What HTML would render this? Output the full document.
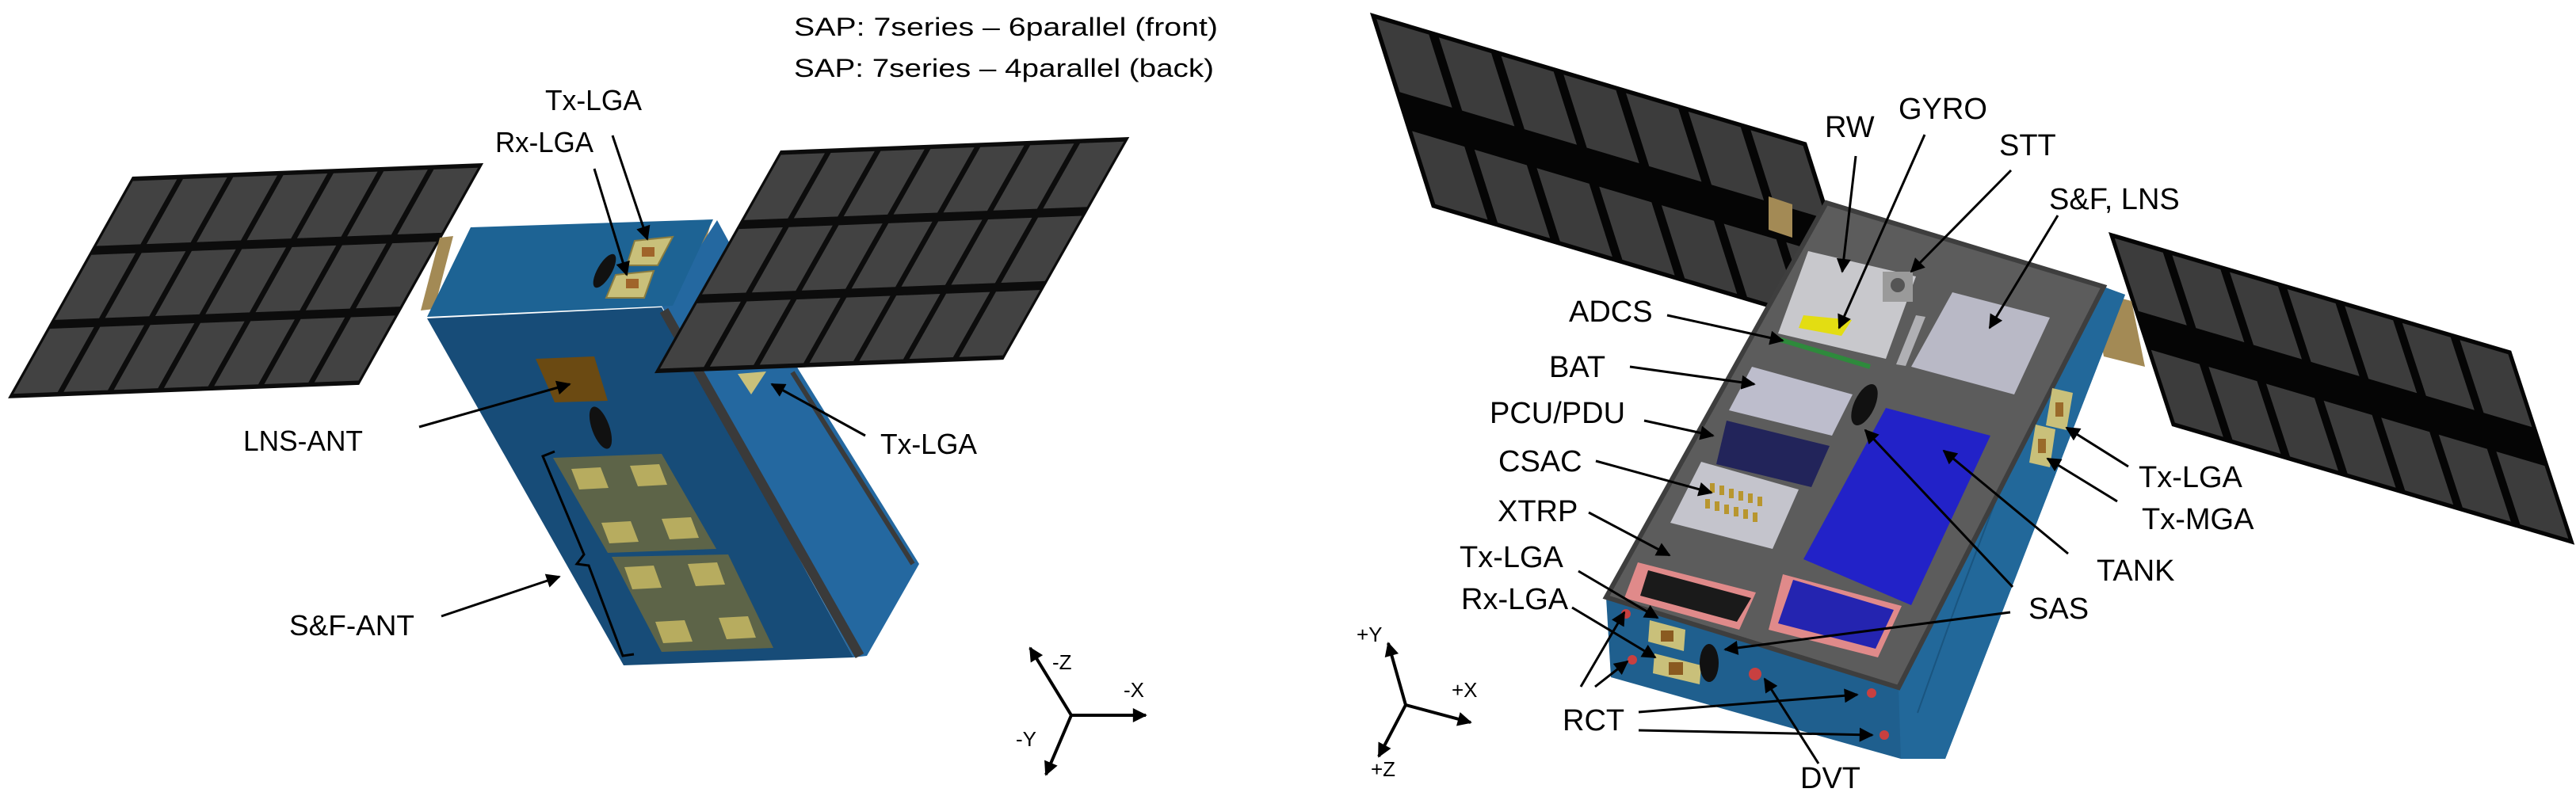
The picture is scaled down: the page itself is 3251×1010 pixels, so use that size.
<!DOCTYPE html>
<html><head><meta charset="utf-8"><style>
html,body{margin:0;padding:0;background:#fff;}
svg{display:block;}
text{font-family:"Liberation Sans",sans-serif;fill:#000;}
</style></head><body>
<svg width="3251" height="1010" viewBox="0 0 3251 1010" xmlns="http://www.w3.org/2000/svg">
<defs>
<marker id="ah" viewBox="0 0 10 10" refX="9" refY="5" markerWidth="22" markerHeight="18" orient="auto" markerUnits="userSpaceOnUse"><path d="M0,0 L10,5 L0,10 z" fill="#000"/></marker>
<g id="p7x3">
<rect x="0" y="0" width="7" height="3" fill="#0c0c0c"/>
<g fill="#424242">
<rect x="0.06" y="0.06" width="0.88" height="0.88"/><rect x="1.06" y="0.06" width="0.88" height="0.88"/><rect x="2.06" y="0.06" width="0.88" height="0.88"/><rect x="3.06" y="0.06" width="0.88" height="0.88"/><rect x="4.06" y="0.06" width="0.88" height="0.88"/><rect x="5.06" y="0.06" width="0.88" height="0.88"/><rect x="6.06" y="0.06" width="0.88" height="0.88"/>
<rect x="0.06" y="1.06" width="0.88" height="0.88"/><rect x="1.06" y="1.06" width="0.88" height="0.88"/><rect x="2.06" y="1.06" width="0.88" height="0.88"/><rect x="3.06" y="1.06" width="0.88" height="0.88"/><rect x="4.06" y="1.06" width="0.88" height="0.88"/><rect x="5.06" y="1.06" width="0.88" height="0.88"/><rect x="6.06" y="1.06" width="0.88" height="0.88"/>
<rect x="0.06" y="2.06" width="0.88" height="0.88"/><rect x="1.06" y="2.06" width="0.88" height="0.88"/><rect x="2.06" y="2.06" width="0.88" height="0.88"/><rect x="3.06" y="2.06" width="0.88" height="0.88"/><rect x="4.06" y="2.06" width="0.88" height="0.88"/><rect x="5.06" y="2.06" width="0.88" height="0.88"/><rect x="6.06" y="2.06" width="0.88" height="0.88"/>
</g></g>
<g id="p7x2">
<rect x="0" y="0" width="7" height="2" fill="#050505"/>
<g fill="#3c3c3c">
<rect x="0.08" y="0.05" width="0.84" height="0.75"/><rect x="1.08" y="0.05" width="0.84" height="0.75"/><rect x="2.08" y="0.05" width="0.84" height="0.75"/><rect x="3.08" y="0.05" width="0.84" height="0.75"/><rect x="4.08" y="0.05" width="0.84" height="0.75"/><rect x="5.08" y="0.05" width="0.84" height="0.75"/><rect x="6.08" y="0.05" width="0.84" height="0.75"/>
<rect x="0.08" y="1.2" width="0.84" height="0.75"/><rect x="1.08" y="1.2" width="0.84" height="0.75"/><rect x="2.08" y="1.2" width="0.84" height="0.75"/><rect x="3.08" y="1.2" width="0.84" height="0.75"/><rect x="4.08" y="1.2" width="0.84" height="0.75"/><rect x="5.08" y="1.2" width="0.84" height="0.75"/><rect x="6.08" y="1.2" width="0.84" height="0.75"/>
</g></g>
</defs>

<!-- ===== LEFT SATELLITE ===== -->
<use href="#p7x3" transform="matrix(63.3 -2.43 -52.3 93.3 167 223)"/>
<!-- hinges -->
<polygon points="555,300 572,298 548,390 531,392" fill="#a38a55"/>
<polygon points="880,284 897,282 870,380 853,382" fill="#a38a55"/>
<!-- side face -->
<polygon points="835,386 905,278 1008,467 1160,712 1094,828 1077,830" fill="#2468a0"/>
<!-- top face -->
<polygon points="594,287 900,277 849,386 539,400" fill="#1d6394"/>
<!-- front face -->
<polygon points="539,402 835,388 1077,830 787,840" fill="#174c78"/>
<!-- frame rail -->
<polyline points="838,392 1085,828" stroke="#3a3a3a" stroke-width="12" fill="none"/>
<polyline points="1000,470 1152,712" stroke="#3a3a3a" stroke-width="6" fill="none"/>
<!-- right panel in front -->
<use href="#p7x3" transform="matrix(62.9 -2.43 -53 93.7 985 190)"/>
<!-- patches top -->
<polygon points="801,304 849,299 830,335 791,335" fill="#c9c07a" stroke="#8a7c40" stroke-width="2"/>
<rect x="810" y="312" width="16" height="12" fill="#a0642a"/>
<polygon points="777,347 825,342 813,376 765,376" fill="#c9c07a" stroke="#8a7c40" stroke-width="2"/>
<rect x="790" y="352" width="16" height="12" fill="#a0642a"/>
<ellipse cx="763" cy="342" rx="9" ry="24" transform="rotate(30 763 342)" fill="#111"/>
<!-- LNS-ANT -->
<polygon points="676,453 750,450 767,506 700,508" fill="#6b4a12"/>
<ellipse cx="758" cy="540" rx="11" ry="28" transform="rotate(-20 758 540)" fill="#111"/>
<!-- S&F boards -->
<polygon points="698,578 835,573 904,693 767,698" fill="#5d6448"/>
<polygon points="772,703 919,700 976,818 835,823" fill="#5d6448"/>
<g fill="#b7ac5f">
<polygon points="721,592 758,590 768,616 731,618"/><polygon points="795,588 832,586 842,612 805,614"/>
<polygon points="759,660 796,658 806,684 769,686"/><polygon points="835,655 872,653 882,679 845,681"/>
<polygon points="788,716 825,714 835,742 798,744"/><polygon points="868,712 905,710 915,738 878,740"/>
<polygon points="827,785 864,783 874,810 837,812"/><polygon points="907,780 944,778 954,805 917,807"/>
</g>
<polygon points="931,472 967,469 948,498" fill="#c9c07a"/>
<!-- bracket -->
<polyline points="700,570 685,576 737,700 728,712 743,714 786,828 800,826" fill="none" stroke="#000" stroke-width="3"/>
<!-- left labels -->
<text x="1002" y="45" font-size="32" textLength="535" lengthAdjust="spacingAndGlyphs">SAP: 7series – 6parallel (front)</text>
<text x="1002" y="97" font-size="32" textLength="530" lengthAdjust="spacingAndGlyphs">SAP: 7series – 4parallel (back)</text>
<text x="688" y="139" font-size="36" textLength="122" lengthAdjust="spacingAndGlyphs">Tx-LGA</text>
<text x="625" y="192" font-size="36" textLength="124" lengthAdjust="spacingAndGlyphs">Rx-LGA</text>
<text x="307" y="569" font-size="36" textLength="151" lengthAdjust="spacingAndGlyphs">LNS-ANT</text>
<text x="1111" y="573" font-size="36" textLength="122" lengthAdjust="spacingAndGlyphs">Tx-LGA</text>
<text x="365" y="802" font-size="36" textLength="158" lengthAdjust="spacingAndGlyphs">S&amp;F-ANT</text>
<g stroke="#000" stroke-width="3" fill="none" marker-end="url(#ah)">
<line x1="773" y1="171" x2="817" y2="302"/>
<line x1="750" y1="213" x2="791" y2="347"/>
<line x1="529" y1="539" x2="719" y2="485"/>
<line x1="1092" y1="550" x2="974" y2="485"/>
<line x1="557" y1="778" x2="706" y2="728"/>
</g>
<!-- left axes -->
<g stroke="#000" stroke-width="4" fill="none" marker-end="url(#ah)">
<line x1="1352" y1="903" x2="1300" y2="818"/>
<line x1="1352" y1="903" x2="1446" y2="903"/>
<line x1="1352" y1="903" x2="1320" y2="978"/>
</g>
<text x="1328" y="845" font-size="26">-Z</text>
<text x="1418" y="880" font-size="26">-X</text>
<text x="1282" y="942" font-size="26">-Y</text>

<!-- ===== RIGHT SATELLITE ===== -->
<use href="#p7x2" transform="matrix(78.7 23.4 39 123 1729 16)"/>
<use href="#p7x2" transform="matrix(72.6 21.4 40 122.5 2661 293)"/>
<polygon points="2232,248 2262,258 2262,300 2232,290" fill="#a38a55"/>
<polygon points="2640,367 2690,380 2707,463 2655,450" fill="#a38a55"/>
<!-- body silhouette -->
<polygon points="2305,256 2648,360 2682,372 2455,958 2399,958 2033,855 2027,754" fill="#1f5f8e"/>
<polygon points="2396,868 2655,362 2682,372 2455,958 2399,958" fill="#22689a"/>
<polyline points="2580,470 2470,760 2420,900" stroke="#1a5580" stroke-width="2" fill="none"/>
<!-- frame -->
<polygon points="2305,256 2655,362 2396,868 2027,754" fill="#5c5c5c" stroke="#3e3e3e" stroke-width="6"/>
<!-- RW/GYRO area -->
<polygon points="2282,317 2418,349 2380,453 2244,421" fill="#c8c8cc"/>
<polygon points="2276,398 2337,404 2324,424 2270,414" fill="#e3dd12"/>
<line x1="2244" y1="428" x2="2360" y2="463" stroke="#2e8a3c" stroke-width="6"/>
<rect x="2376" y="343" width="38" height="38" fill="#9a9a9a"/>
<circle cx="2395" cy="360" r="9" fill="#555"/>
<polygon points="2418,398 2430,400 2405,462 2393,460" fill="#b0b0b4"/>
<!-- S&F box -->
<polygon points="2464,369 2587,401 2542,498 2412,463" fill="#b9b9c6"/>
<!-- BAT -->
<polygon points="2211,463 2338,498 2312,550 2182,518" fill="#bdbdcc"/>
<!-- PCU -->
<polygon points="2179,531 2309,563 2286,615 2166,586" fill="#22245a"/>
<!-- CSAC -->
<polygon points="2147,583 2270,618 2237,693 2108,660" fill="#c4c4cc"/>
<g fill="#b8962e">
<rect x="2158" y="610" width="6" height="12"/><rect x="2170" y="613" width="6" height="12"/><rect x="2182" y="617" width="6" height="12"/><rect x="2194" y="620" width="6" height="12"/><rect x="2206" y="623" width="6" height="12"/><rect x="2218" y="627" width="6" height="12"/>
<rect x="2152" y="630" width="6" height="12"/><rect x="2164" y="633" width="6" height="12"/><rect x="2176" y="637" width="6" height="12"/><rect x="2188" y="640" width="6" height="12"/><rect x="2200" y="643" width="6" height="12"/><rect x="2212" y="647" width="6" height="12"/>
</g>
<!-- XTRP -->
<polygon points="2067,710 2216,748 2195,795 2050,755" fill="#e08a8a"/>
<polygon points="2080,720 2210,755 2192,785 2070,752" fill="#1a1a1a"/>
<!-- TANK -->
<polygon points="2380,515 2512,550 2412,764 2276,706" fill="#2222c8"/>
<!-- small blue box -->
<polygon points="2250,725 2400,765 2370,830 2232,795" fill="#e08a8a"/>
<polygon points="2263,732 2390,770 2367,819 2244,787" fill="#2424b0"/>
<!-- SAS sensor -->
<ellipse cx="2353" cy="511" rx="13" ry="28" transform="rotate(25 2353 511)" fill="#111"/>
<!-- side patches -->
<polygon points="2590,490 2616,496 2608,543 2582,537" fill="#c9c07a"/><rect x="2594" y="508" width="10" height="18" fill="#9a6a2a"/>
<polygon points="2569,536 2594,542 2587,590 2561,584" fill="#c9c07a"/><rect x="2572" y="554" width="10" height="18" fill="#9a6a2a"/>
<!-- bottom face items -->
<polygon points="2082,783 2127,795 2125,822 2080,810" fill="#c9c07a"/><rect x="2096" y="796" width="16" height="14" fill="#8a5a20"/>
<polygon points="2088,825 2147,840 2145,864 2086,850" fill="#c9c07a"/><rect x="2106" y="836" width="18" height="16" fill="#8a5a20"/>
<ellipse cx="2157" cy="837" rx="12" ry="24" fill="#111"/>
<circle cx="2215" cy="851" r="8" fill="#c84040"/>
<circle cx="2052" cy="775" r="6" fill="#c84040"/><circle cx="2060" cy="833" r="6" fill="#c84040"/>
<circle cx="2362" cy="875" r="6" fill="#c84040"/><circle cx="2378" cy="928" r="6" fill="#c84040"/>
<!-- right labels -->
<g font-size="38">
<text x="2303" y="173">RW</text>
<text x="2396" y="150">GYRO</text>
<text x="2523" y="196">STT</text>
<text x="2586" y="264">S&amp;F, LNS</text>
<text x="1980" y="406">ADCS</text>
<text x="1955" y="476">BAT</text>
<text x="1880" y="534">PCU/PDU</text>
<text x="1891" y="595">CSAC</text>
<text x="1890" y="658">XTRP</text>
<text x="1842" y="716">Tx-LGA</text>
<text x="1844" y="769">Rx-LGA</text>
<text x="2699" y="615">Tx-LGA</text>
<text x="2703" y="668">Tx-MGA</text>
<text x="2646" y="733">TANK</text>
<text x="2560" y="781">SAS</text>
<text x="1972" y="922">RCT</text>
<text x="2272" y="995">DVT</text>
</g>
<g stroke="#000" stroke-width="3" fill="none" marker-end="url(#ah)">
<line x1="2342" y1="197" x2="2325" y2="343"/>
<line x1="2429" y1="170" x2="2321" y2="414"/>
<line x1="2538" y1="215" x2="2412" y2="343"/>
<line x1="2597" y1="272" x2="2511" y2="414"/>
<line x1="2104" y1="398" x2="2250" y2="430"/>
<line x1="2057" y1="463" x2="2214" y2="485"/>
<line x1="2075" y1="531" x2="2162" y2="550"/>
<line x1="2014" y1="582" x2="2160" y2="622"/>
<line x1="2005" y1="647" x2="2107" y2="701"/>
<line x1="1992" y1="721" x2="2092" y2="780"/>
<line x1="1984" y1="767" x2="2089" y2="830"/>
<line x1="1995" y1="867" x2="2050" y2="773"/>
<line x1="2013" y1="867" x2="2054" y2="835"/>
<line x1="2068" y1="899" x2="2344" y2="877"/>
<line x1="2068" y1="922" x2="2363" y2="928"/>
<line x1="2295" y1="964" x2="2227" y2="857"/>
<line x1="2537" y1="773" x2="2177" y2="820"/>
<line x1="2540" y1="741" x2="2354" y2="543"/>
<line x1="2610" y1="699" x2="2453" y2="569"/>
<line x1="2686" y1="589" x2="2608" y2="540"/>
<line x1="2672" y1="633" x2="2584" y2="579"/>
</g>
<!-- right axes -->
<g stroke="#000" stroke-width="4" fill="none" marker-end="url(#ah)">
<line x1="1774" y1="890" x2="1752" y2="812"/>
<line x1="1774" y1="890" x2="1856" y2="912"/>
<line x1="1774" y1="890" x2="1740" y2="955"/>
</g>
<text x="1712" y="810" font-size="26">+Y</text>
<text x="1832" y="880" font-size="26">+X</text>
<text x="1730" y="980" font-size="26">+Z</text>
</svg>
</body></html>
